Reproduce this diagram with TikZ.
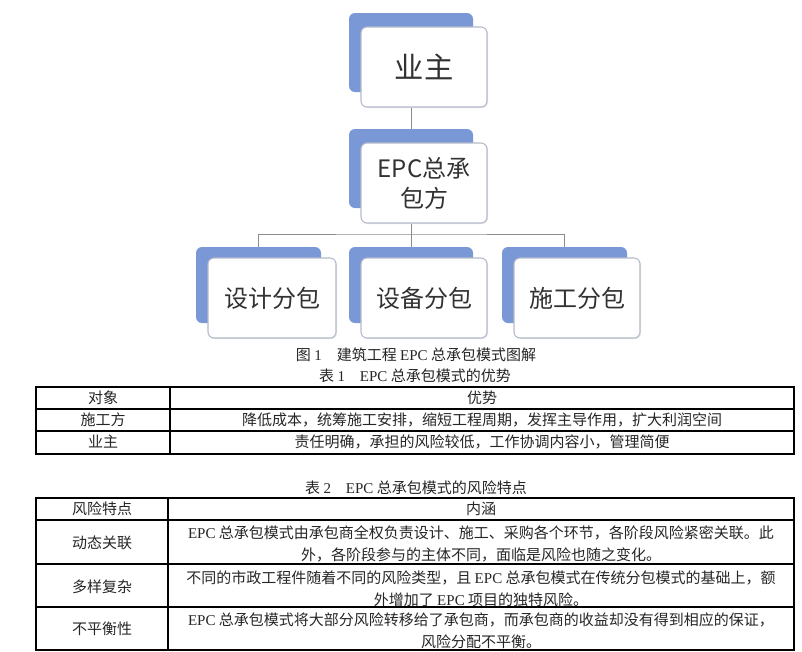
\documentclass[tikz,border=0pt]{standalone}
\usepackage{fontspec}
\setmainfont{Liberation Serif}
\newfontfamily\song{Noto Sans CJK SC}
\newfontfamily\cjksans{Noto Sans CJK SC}
\usetikzlibrary{fit,shadows}
\definecolor{backblue}{RGB}{122,152,214}
\definecolor{frontline}{RGB}{180,186,202}
\definecolor{textgray}{RGB}{50,50,50}
\definecolor{conn}{RGB}{140,140,140}
\newcommand\Lat[1]{{\rmfamily #1}}
\begin{document}
\begin{tikzpicture}[x=0.75pt,y=-0.75pt,
  backbox/.style={fill=backblue, draw=none, rounded corners=4.5pt, inner sep=0pt},
  frontbox/.style={fill=white, draw=frontline, line width=0.8pt, rounded corners=4.5pt,
    inner sep=0pt, text=textgray, align=center, minimum width=94.5pt, minimum height=60pt,
    drop shadow={shadow xshift=0.8pt, shadow yshift=-0.8pt, opacity=0.18, fill=gray}},
  bigtext/.style={font=\cjksans\fontsize{22}{26}\selectfont},
  midtext/.style={font=\cjksans\fontsize{18}{22.5}\selectfont},
  conline/.style={draw=conn, line width=0.75pt},
  tbl/.style={line width=1.5pt, draw=black},
  cell/.style={font=\song\fontsize{11.25}{16.5}\selectfont, text=black!85, align=center, inner sep=0pt},
]
\useasboundingbox (0,0) rectangle (802,651);
\fill[white] (0,0) rectangle (802,651);

% back boxes
\node[backbox, fit={(349,13) (473,92)}] (yzb) {};
\node[backbox, fit={(349,129) (473,208)}] (epcb) {};
\node[backbox, fit={(196,247) (321,323)}] (s1b) {};
\node[backbox, fit={(349,247) (473,323)}] (s2b) {};
\node[backbox, fit={(502,247) (627,323)}] (s3b) {};

% front boxes
\node[frontbox, bigtext] (yzf) at (424,67) {业主};
\node[frontbox, midtext] (epcf) at (424,183) {EPC总承\\包方};
\node[frontbox, midtext, minimum width=96pt] (s1f) at (272,298) {设计分包};
\node[frontbox, midtext] (s2f) at (424,298) {设备分包};
\node[frontbox, midtext] (s3f) at (577,298) {施工分包};

% connectors
\coordinate (bus) at (411,234);
\draw[conline] (yzb.south |- yzf.south) -- (epcb.north);
\draw[conline] (epcb.south |- epcf.south) -- (s2b.north);
\draw[conline] (s1b.north) |- (bus) -| (s3b.north);

% captions
\node[cell] (cap1) at (416,355) {图 \Lat{1}\hspace{1em}建筑工程 \Lat{EPC} 总承包模式图解};
\node[cell] (cap2) at (415,376) {表 \Lat{1}\hspace{1em}\Lat{EPC} 总承包模式的优势};
\node[cell] (cap3) at (416,488) {表 \Lat{2}\hspace{1em}\Lat{EPC} 总承包模式的风险特点};

% table 1
\draw[tbl] (36,387) rectangle (794,454);
\draw[tbl] (170,387) -- (170,454);
\draw[tbl] (36,409) -- (794,409);
\draw[tbl] (36,431) -- (794,431);
\node[cell] (t1a) at (103,398) {对象};
\node[cell] (t1b) at (482,398) {优势};
\node[cell] (t1c) at (103,420) {施工方};
\node[cell] (t1d) at (482,420) {降低成本，统筹施工安排，缩短工程周期，发挥主导作用，扩大利润空间};
\node[cell] (t1e) at (103,442) {业主};
\node[cell] (t1f) at (482,442) {责任明确，承担的风险较低，工作协调内容小，管理简便};

% table 2
\draw[tbl] (36,498) rectangle (794,650);
\draw[tbl] (168,498) -- (168,650);
\draw[tbl] (36,520) -- (794,520);
\draw[tbl] (36,564) -- (794,564);
\draw[tbl] (36,607) -- (794,607);
\node[cell] (t2a) at (102,509) {风险特点};
\node[cell] (t2b) at (481,509) {内涵};
\node[cell] (t2c) at (102,543) {动态关联};
\node[cell] (t2d) at (481,544) {\Lat{EPC} 总承包模式由承包商全权负责设计、施工、采购各个环节，各阶段风险紧密关联。此\\外，各阶段参与的主体不同，面临是风险也随之变化。};
\node[cell] (t2e) at (102,587) {多样复杂};
\node[cell] (t2f) at (481,589) {不同的市政工程件随着不同的风险类型，且 \Lat{EPC} 总承包模式在传统分包模式的基础上，额\\外增加了 \Lat{EPC} 项目的独特风险。};
\node[cell] (t2g) at (102,629) {不平衡性};
\node[cell] (t2h) at (481,631) {\Lat{EPC} 总承包模式将大部分风险转移给了承包商，而承包商的收益却没有得到相应的保证，\\风险分配不平衡。};
\end{tikzpicture}
\end{document}
